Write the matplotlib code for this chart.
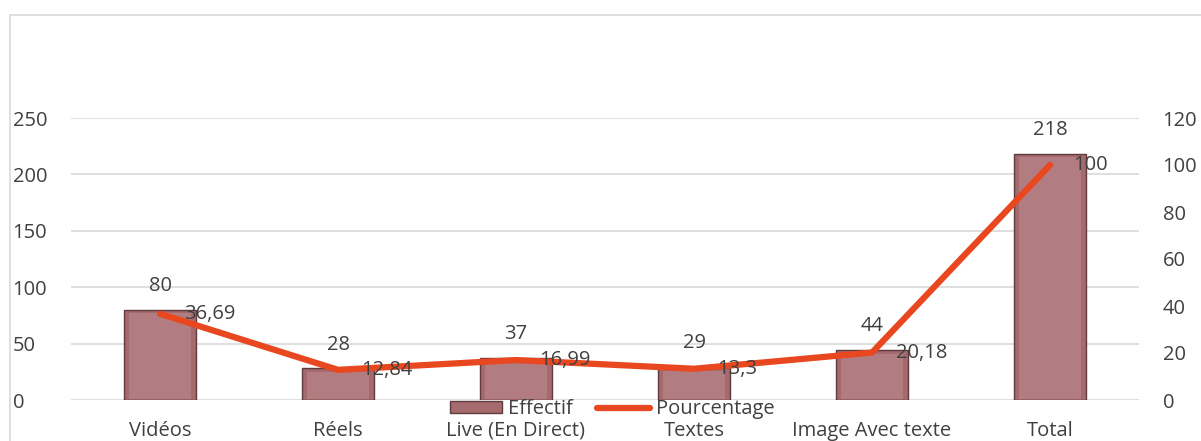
import matplotlib.pyplot as plt
from matplotlib.patches import Rectangle
import numpy as np

plt.rcParams['font.family'] = ['Open Sans', 'DejaVu Sans']

# données
categories = ['Vidéos', 'Réels', 'Live (En Direct)', 'Textes', 'Image Avec texte', 'Total']
effectif = [80, 28, 37, 29, 44, 218]
pourcentage = [36.69, 12.84, 16.99, 13.3, 20.18, 100]
pct_labels = ['36,69', '12,84', '16,99', '13,3', '20,18', '100']

bar_color = '#a46a6d'
line_color = '#e8471f'
text_color = '#404040'
fs = 14.5

W, H = 1201, 441
fig = plt.figure(figsize=(W / 100, H / 100), dpi=100)

# cadre du graphique
fig.patches.append(Rectangle((10 / W, -0.1), 1.2, 1 - 15 / H + 0.1, transform=fig.transFigure,
                             fill=False, edgecolor='#d9d9d9', linewidth=1.2))

ax = fig.add_axes([71 / W, 1 - 400 / H, (1139 - 71) / W, 282 / H])
ax2 = ax.twinx()

x = np.arange(len(categories))
bars = ax.bar(x, effectif, width=0.4, color=bar_color, edgecolor='#5e3b3d', linewidth=1.0,
              label='Effectif', zorder=2)
# petit effet de biseau
for b in bars:
    bx, bw, bh = b.get_x(), b.get_width(), b.get_height()
    ax.add_patch(Rectangle((bx + bw * 0.07, 1), bw * 0.86, bh - 4, facecolor='#b27d80',
                           edgecolor='none', zorder=2.1))
line, = ax2.plot(x, pourcentage, color=line_color, linewidth=4.5, solid_capstyle='round',
                 label='Pourcentage', zorder=3)

ax.set_xlim(-0.5, len(categories) - 0.5)
ax.set_ylim(0, 250)
ax2.set_ylim(0, 120)
ax.set_yticks(range(0, 251, 50))
ax2.set_yticks(range(0, 121, 20))
ax.yaxis.grid(True, color='#d9d9d9', linewidth=1.2, zorder=0)
ax.set_axisbelow(True)

for a in (ax, ax2):
    for s in a.spines.values():
        s.set_visible(False)
    a.tick_params(length=0, labelsize=fs, colors=text_color)

ax.set_xticks(x)
ax.set_xticklabels(categories)
ax.tick_params(axis='x', pad=15)
ax.tick_params(axis='y', pad=42)
for lbl in ax.get_yticklabels():
    lbl.set_horizontalalignment('left')
ax2.tick_params(axis='y', pad=17)

# étiquettes
for xi, v in zip(x, effectif):
    ax.annotate(str(v), (xi, v), xytext=(0, 10), textcoords='offset points',
                ha='center', va='bottom', fontsize=fs, color=text_color)
for xi, v, t in zip(x, pourcentage, pct_labels):
    ax2.annotate(t, (xi, v), xytext=(17, 0), textcoords='offset points',
                 ha='left', va='center', fontsize=fs, color=text_color, zorder=4)

fig.legend(handles=[bars, line], loc='center', bbox_to_anchor=(612 / W, 1 - 409 / H), ncol=2,
           frameon=False, fontsize=fs, labelcolor=text_color, handlelength=2.6,
           handleheight=0.5, columnspacing=1.2, handletextpad=0.3, borderpad=0)

fig.savefig('out.png', dpi=100)
